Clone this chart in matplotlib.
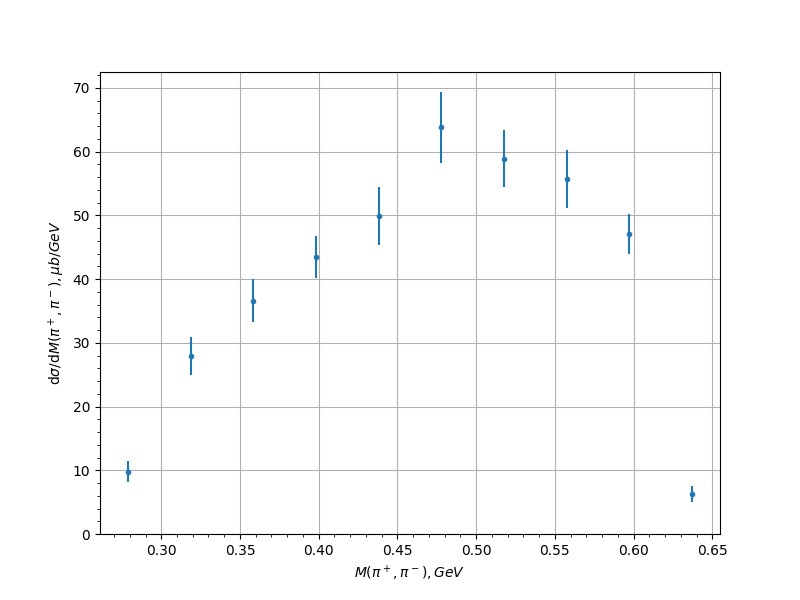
import matplotlib
matplotlib.use("Agg")
import matplotlib.pyplot as plt
from matplotlib.ticker import AutoMinorLocator

# invariant mass bins, GeV
mass = [0.279, 0.319, 0.3585, 0.3985, 0.4385, 0.478, 0.518, 0.558, 0.597, 0.637]
# cross section, mub/GeV
xsec = [9.8, 27.9, 36.6, 43.5, 49.9, 63.8, 58.9, 55.7, 47.1, 6.3]
err = [1.7, 3.0, 3.4, 3.3, 4.5, 5.5, 4.5, 4.5, 3.2, 1.2]

fig, ax = plt.subplots(figsize=(8, 6), dpi=100)
ax.errorbar(mass, xsec, yerr=err, fmt='.')
ax.set_ylim(bottom=0)
ax.xaxis.set_minor_locator(AutoMinorLocator())
ax.yaxis.set_minor_locator(AutoMinorLocator())
ax.grid(True)
ax.set_xlabel(r'$M(\pi^+, \pi^-), GeV$')
ax.set_ylabel(r'$\mathrm{d}\sigma/\mathrm{d}M(\pi^+, \pi^-), \mu b/GeV$')
fig.savefig('out.png')
